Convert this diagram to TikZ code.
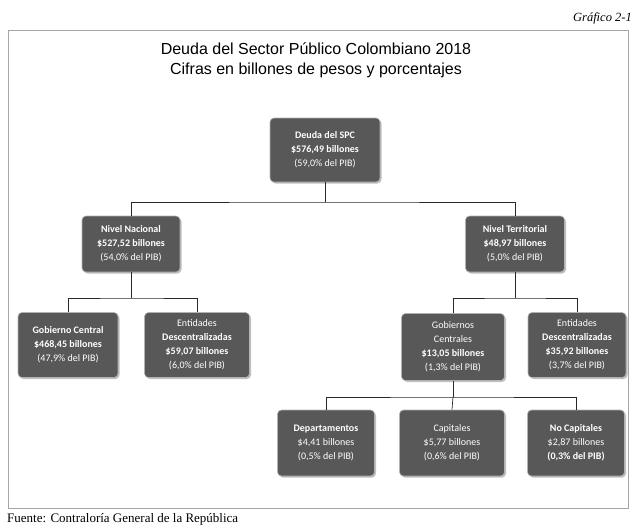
\documentclass[tikz,border=0pt]{standalone}
\usepackage{fontspec}
\setmainfont{Carlito}
\newfontfamily\serifft{Liberation Serif}
\newfontfamily\titlefont{Liberation Sans}
\usetikzlibrary{shadows}
\definecolor{boxgray}{RGB}{88,88,88}
\definecolor{linegray}{RGB}{40,40,40}
\tikzset{
  dbox/.style={rectangle, rounded corners=4pt, fill=boxgray, draw=gray!60, line width=0.6pt,
    text=white, align=center, font=\fontsize{10}{14}\selectfont, inner sep=2pt,
    minimum width=#1, minimum height=62pt, drop shadow={shadow xshift=1.5pt, shadow yshift=-1.5pt, opacity=0.5}},
  dbox/.default=100pt,
  conn/.style={draw=linegray, line width=0.7pt}
}
\begin{document}
\begin{tikzpicture}[x=1pt,y=-1pt]
\useasboundingbox (0,0) rectangle (633,528);
\node[font=\serifft\itshape\fontsize{12.5}{14}\selectfont, anchor=east, inner sep=0pt] (gr) at (632,18) {Gráfico 2-1};
\draw[gray!70, line width=0.6pt] (8,30) rectangle (628,508);
\node[font=\titlefont\fontsize{16}{20}\selectfont, align=center] (title) at (316,60) {Deuda del Sector Público Colombiano 2018\\Cifras en billones de pesos y porcentajes};
\node[font=\serifft\fontsize{13}{14}\selectfont, anchor=west, inner sep=0pt] (src) at (7,519) {Fuente: Contraloría General de la República};

\node[dbox=110pt, minimum height=64pt] (spc) at (325,150) {\textbf{Deuda del SPC}\\\textbf{\$576,49 billones}\\(59,0\% del PIB)};
\node[dbox=98pt, minimum height=56pt] (nac) at (131,244) {\textbf{Nivel Nacional}\\\textbf{\$527,52 billones}\\(54,0\% del PIB)};
\node[dbox=99pt, minimum height=56pt] (ter) at (515,244) {\textbf{Nivel Territorial}\\\textbf{\$48,97 billones}\\(5,0\% del PIB)};
\node[dbox=100pt, minimum height=65pt] (gc) at (68,345) {\textbf{Gobierno Central}\\\textbf{\$468,45 billones}\\(47,9\% del PIB)};
\node[dbox=105pt, minimum height=65pt] (edn) at (197,345) {Entidades\\\textbf{Descentralizadas}\\\textbf{\$59,07 billones}\\(6,0\% del PIB)};
\node[dbox=103pt, minimum height=67pt] (gcs) at (453,347) {Gobiernos\\Centrales\\\textbf{\$13,05 billones}\\(1,3\% del PIB)};
\node[dbox=98pt, minimum height=65pt] (edt) at (577,345) {Entidades\\\textbf{Descentralizadas}\\\textbf{\$35,92 billones}\\(3,7\% del PIB)};
\node[dbox=97pt, minimum height=66pt] (dep) at (326,443) {\textbf{Departamentos}\\\$4,41 billones\\(0,5\% del PIB)};
\node[dbox=105pt, minimum height=66pt] (cap) at (452,443) {Capitales\\\$5,77 billones\\(0,6\% del PIB)};
\node[dbox=97pt, minimum height=66pt] (nocap) at (576,443) {\textbf{No Capitales}\\\$2,87 billones\\\textbf{(0,3\% del PIB)}};

\coordinate (j1) at (325,202);
\coordinate (j2) at (131,298);
\coordinate (j3) at (515,298);
\coordinate (j4) at (453,397);
\draw[conn] (spc.south) -- (j1);
\draw[conn] (nac.north) |- (j1) -| (ter.north);
\draw[conn] (nac.south) -- (j2);
\draw[conn] (gc.north) |- (j2) -| (edn.north);
\draw[conn] (ter.south) -- (j3);
\draw[conn] (gcs.north) |- (j3) -| (edt.north);
\draw[conn] (gcs.south) -- (j4);
\draw[conn] (dep.north) |- (j4) -| (nocap.north);
\draw[conn] (j4) -- (cap.north);
\end{tikzpicture}
\end{document}
